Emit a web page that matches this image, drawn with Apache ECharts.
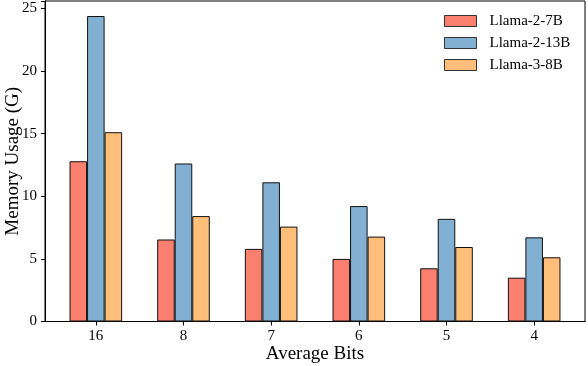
<!DOCTYPE html>
<html><head><meta charset="utf-8">
<script src="https://cdn.jsdelivr.net/npm/echarts@6/dist/echarts.min.js"></script>
<style>html,body{margin:0;padding:0;background:#fff}#c{width:588px;height:366px}</style>
</head><body><div id="c"></div>
<script>
const categories = ['16', '8', '7', '6', '5', '4'];
const llama2_7b = [12.8, 6.55, 5.8, 5.0, 4.25, 3.5];
const llama2_13b = [24.4, 12.62, 11.12, 9.22, 8.2, 6.72];
const llama3_8b = [15.12, 8.42, 7.58, 6.78, 5.95, 5.13];
const yTicks = [0, 5, 10, 15, 20, 25];

const font = 'Liberation Serif';
const chart = echarts.init(document.getElementById('c'), null, {renderer: 'canvas'});
const border = {borderColor: '#111', borderWidth: 1};
const line = {show: true, lineStyle: {color: '#000', width: 1}};
chart.setOption({
  animation: false,
  textStyle: {fontFamily: font, color: '#000'},
  grid: [
    {left: 45, right: 3, top: 1, bottom: 44.5, outerBoundsMode: 'none', containLabel: false,
     show: true, borderColor: '#000', borderWidth: 1, backgroundColor: 'transparent'},
    {left: 52, right: 10, top: 1, bottom: 44.5, outerBoundsMode: 'none', containLabel: false}
  ],
  legend: {
    orient: 'vertical', left: 444, top: 13, padding: 0,
    itemWidth: 32, itemHeight: 11, itemGap: 6, itemStyle: {borderColor: '#333', borderWidth: 1},
    textStyle: {fontFamily: font, fontSize: 15, color: '#000', lineHeight: 16, padding: [0, 0, 0, 8]},
    icon: 'rect',
    data: ['Llama-2-7B', 'Llama-2-13B', 'Llama-3-8B']
  },
  xAxis: [
    {type: 'value', gridIndex: 0, min: 0, max: 1, position: 'top',
     axisLine: line, axisTick: {show: false}, axisLabel: {show: false}, splitLine: {show: false}},
    {type: 'category', gridIndex: 1, data: categories,
     axisLine: line,
     axisTick: {show: true, alignWithLabel: true, inside: false, length: 4, lineStyle: {color: '#000'}},
     axisLabel: {fontFamily: font, fontSize: 15, color: '#000', margin: 7},
     name: 'Average Bits', nameLocation: 'middle', nameGap: 23, nameMoveOverlap: false,
     nameTextStyle: {fontFamily: font, fontSize: 19, color: '#000'}},
    {type: 'value', gridIndex: 0, min: 0, max: 1, position: 'bottom',
     axisLine: line, axisTick: {show: false}, axisLabel: {show: false}, splitLine: {show: false}}
  ],
  yAxis: [
    {type: 'value', gridIndex: 0, min: 0, max: 25.6, interval: 5,
     axisLine: line,
     axisTick: {show: true, inside: false, length: 4, lineStyle: {color: '#000'}},
     splitLine: {show: false},
     axisLabel: {fontFamily: font, fontSize: 15, color: '#000', margin: 8,
       formatter: v => yTicks.includes(v) ? String(v) : ''},
     name: 'Memory Usage (G)', nameLocation: 'middle', nameGap: 22, nameMoveOverlap: false,
     nameTextStyle: {fontFamily: font, fontSize: 19, color: '#000'}},
    {type: 'value', gridIndex: 1, min: 0, max: 25.6, show: false},
    {type: 'value', gridIndex: 0, min: 0, max: 25.6, position: 'right',
     axisLine: line, axisTick: {show: false}, axisLabel: {show: false}, splitLine: {show: false}}
  ],
  series: [
    {name: 'Llama-2-7B', type: 'bar', xAxisIndex: 1, yAxisIndex: 1, data: llama2_7b,
     barGap: '0%', barCategoryGap: '40%', itemStyle: Object.assign({color: '#FA7F6F'}, border)},
    {name: 'Llama-2-13B', type: 'bar', xAxisIndex: 1, yAxisIndex: 1, data: llama2_13b,
     barGap: '0%', barCategoryGap: '40%', itemStyle: Object.assign({color: '#82B0D2'}, border)},
    {name: 'Llama-3-8B', type: 'bar', xAxisIndex: 1, yAxisIndex: 1, data: llama3_8b,
     barGap: '0%', barCategoryGap: '40%', itemStyle: Object.assign({color: '#FFBE7A'}, border)}
  ]
});
</script></body></html>
